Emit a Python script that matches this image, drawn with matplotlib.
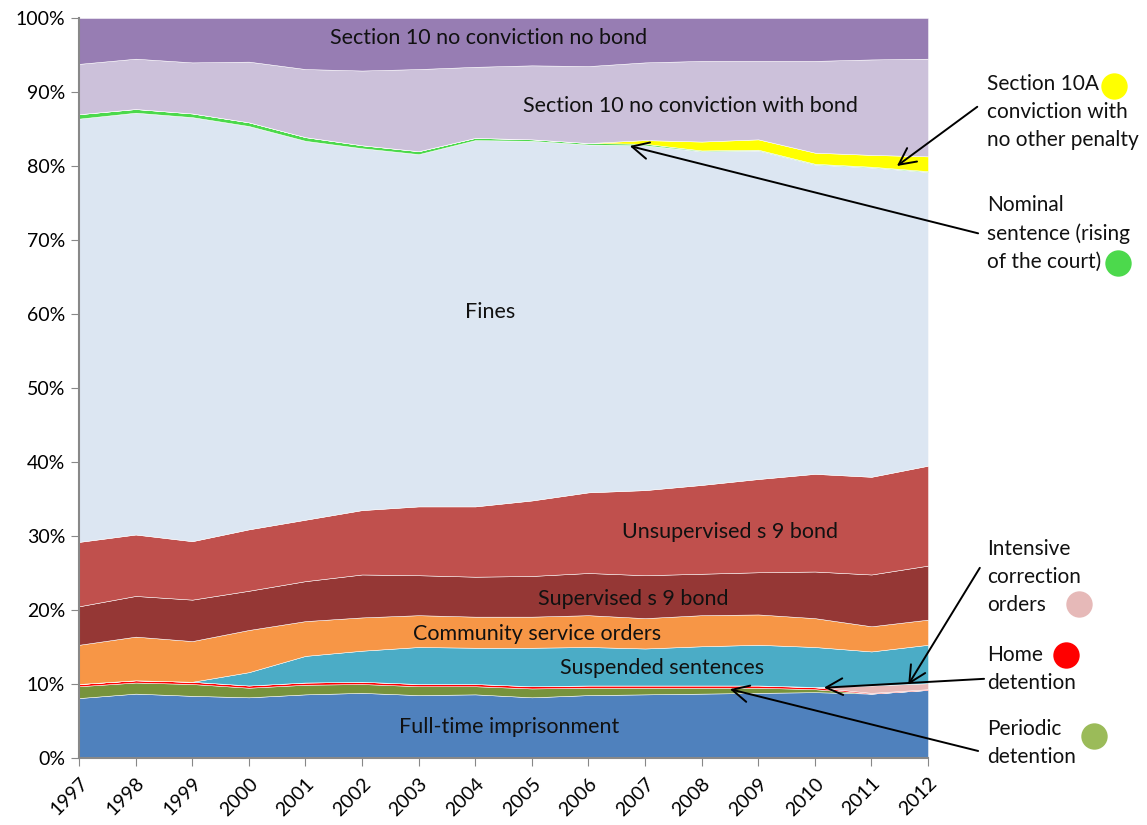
import numpy as np
import matplotlib
matplotlib.use("Agg")
import matplotlib.pyplot as plt
from matplotlib.ticker import FuncFormatter

plt.rcParams['font.family'] = ['Lato', 'DejaVu Sans']

years = list(range(1997, 2013))

# share of penalties (%) by year, bottom layer first
full_time = [8.1, 8.7, 8.4, 8.2, 8.6, 8.8, 8.5, 8.6, 8.2, 8.5, 8.6, 8.7, 8.8, 8.9, 8.7, 9.2]
periodic = [1.6, 1.5, 1.6, 1.3, 1.3, 1.2, 1.2, 1.1, 1.2, 1.0, 0.9, 0.8, 0.7, 0.4, 0.0, 0.0]
home_det = [0.3, 0.3, 0.3, 0.3, 0.3, 0.3, 0.3, 0.3, 0.3, 0.3, 0.3, 0.3, 0.3, 0.25, 0.1, 0.1]
ico = [0, 0, 0, 0, 0, 0, 0, 0, 0, 0, 0, 0, 0, 0.05, 1.0, 0.8]
suspended = [0, 0, 0, 1.8, 3.6, 4.2, 5.0, 4.9, 5.2, 5.2, 5.0, 5.3, 5.5, 5.4, 4.6, 5.2]
community = [5.3, 5.9, 5.5, 5.7, 4.7, 4.5, 4.3, 4.2, 4.2, 4.3, 4.1, 4.2, 4.1, 3.9, 3.4, 3.4]
supervised = [5.2, 5.5, 5.6, 5.3, 5.4, 5.8, 5.4, 5.4, 5.5, 5.7, 5.8, 5.6, 5.7, 6.3, 7.0, 7.3]
unsupervised = [8.7, 8.3, 7.9, 8.3, 8.3, 8.7, 9.3, 9.5, 10.2, 10.9, 11.5, 12.0, 12.6, 13.2, 13.2, 13.5]
fines = [57.2, 57.0, 57.3, 54.5, 51.2, 48.9, 47.6, 49.5, 48.6, 47.0, 46.6, 45.1, 44.4, 41.8, 41.8, 39.7]
nominal = [0.6, 0.5, 0.5, 0.5, 0.5, 0.4, 0.4, 0.3, 0.2, 0.2, 0.2, 0.1, 0.1, 0.1, 0.1, 0.1]
s10a = [0, 0, 0, 0, 0, 0, 0, 0, 0, 0, 0.5, 1.2, 1.4, 1.5, 1.6, 2.0]
s10_bond = [6.8, 6.8, 6.9, 8.2, 9.2, 10.1, 11.1, 9.6, 10.0, 10.4, 10.5, 10.9, 10.6, 12.4, 12.9, 13.2]
s10_no_bond = [6.2, 5.5, 6.0, 5.9, 6.9, 7.1, 6.9, 6.6, 6.4, 6.5, 6.0, 5.8, 5.8, 5.8, 5.6, 5.5]

series = [full_time, periodic, home_det, ico, suspended, community, supervised,
          unsupervised, fines, nominal, s10a, s10_bond, s10_no_bond]
colors = ['#4F81BD', '#77933C', '#FF0000', '#E6B9B8', '#4BACC6', '#F79646', '#953735',
          '#C0504D', '#DCE6F2', '#4CD94C', '#FFFF00', '#CCC1DA', '#977DB3']

data = np.array(series, dtype=float)
data = data / data.sum(axis=0) * 100

fig = plt.figure(figsize=(11.47, 8.25), dpi=100)
ax = fig.add_axes([0.0689, 0.0812, 0.7402, 0.897])

ax.stackplot(years, data, colors=colors, edgecolor='white', linewidth=0.35)

ax.set_xlim(1997, 2012)
ax.set_ylim(0, 100)
ax.set_xticks(years)
ax.set_xticklabels([str(y) for y in years], rotation=45, ha='right', rotation_mode='anchor', fontsize=14)
ax.set_yticks(range(0, 101, 10))
ax.yaxis.set_major_formatter(FuncFormatter(lambda v, p: f'{int(v)}%'))
ax.tick_params(axis='y', labelsize=14, length=6, color='#888888', pad=4)
ax.tick_params(axis='x', length=6, color='#888888', pad=6)
for side in ['top', 'right']:
    ax.spines[side].set_visible(False)
for side in ['left', 'bottom']:
    ax.spines[side].set_color('#888888')
    ax.spines[side].set_linewidth(1.5)

# labels inside the areas
inner = [
    ('Section 10 no conviction no bond', 2004.24, 97.3),
    ('Section 10 no conviction with bond', 2007.8, 88.1),
    ('Fines', 2004.26, 60.3),
    ('Unsupervised s 9 bond', 2008.5, 30.5),
    ('Supervised s 9 bond', 2006.8, 21.5),
    ('Community service orders', 2005.1, 16.8),
    ('Suspended sentences', 2007.3, 12.2),
    ('Full-time imprisonment', 2004.6, 4.2),
]
for txt, x, y in inner:
    ax.text(x, y, txt, ha='center', va='center', fontsize=15.5, color='#111111')

# callouts for the thin layers
callouts = [
    ('Section 10A\nconviction with\nno other penalty', 0.873, (2011.45, 80.0), (1.058, 0.880), '#FFFF00', (1.219, 0.908)),
    ('Nominal\nsentence (rising\nof the court)', 0.709, (2006.73, 82.7), (1.059, 0.709), '#4CD94C', (1.224, 0.669)),
    ('Intensive\ncorrection\norders', 0.245, (2011.65, 9.9), (1.061, 0.257), '#E6B9B8', (1.178, 0.208)),
    ('Home\ndetention', 0.120, (2010.16, 9.5), (1.066, 0.107), '#FF0000', (1.163, 0.139)),
    ('Periodic\ndetention', 0.020, (2008.5, 9.3), (1.059, 0.0095), '#9BBB59', (1.196, 0.0297)),
]
for txt, ty, tip, tail, dot, dpos in callouts:
    ax.text(1.0695, ty, txt, transform=ax.transAxes, ha='left', va='center',
            fontsize=15, linespacing=1.5, color='#111111')
    ax.annotate('', xy=tip, xycoords='data', xytext=tail, textcoords='axes fraction',
                arrowprops=dict(arrowstyle='->', lw=1.4, color='black', mutation_scale=30,
                                shrinkA=0, shrinkB=0),
                annotation_clip=False)
    ax.plot(dpos[0], dpos[1], 'o', transform=ax.transAxes, clip_on=False,
            markersize=19, color=dot, markeredgewidth=0)

fig.savefig('out.png', dpi=100)
